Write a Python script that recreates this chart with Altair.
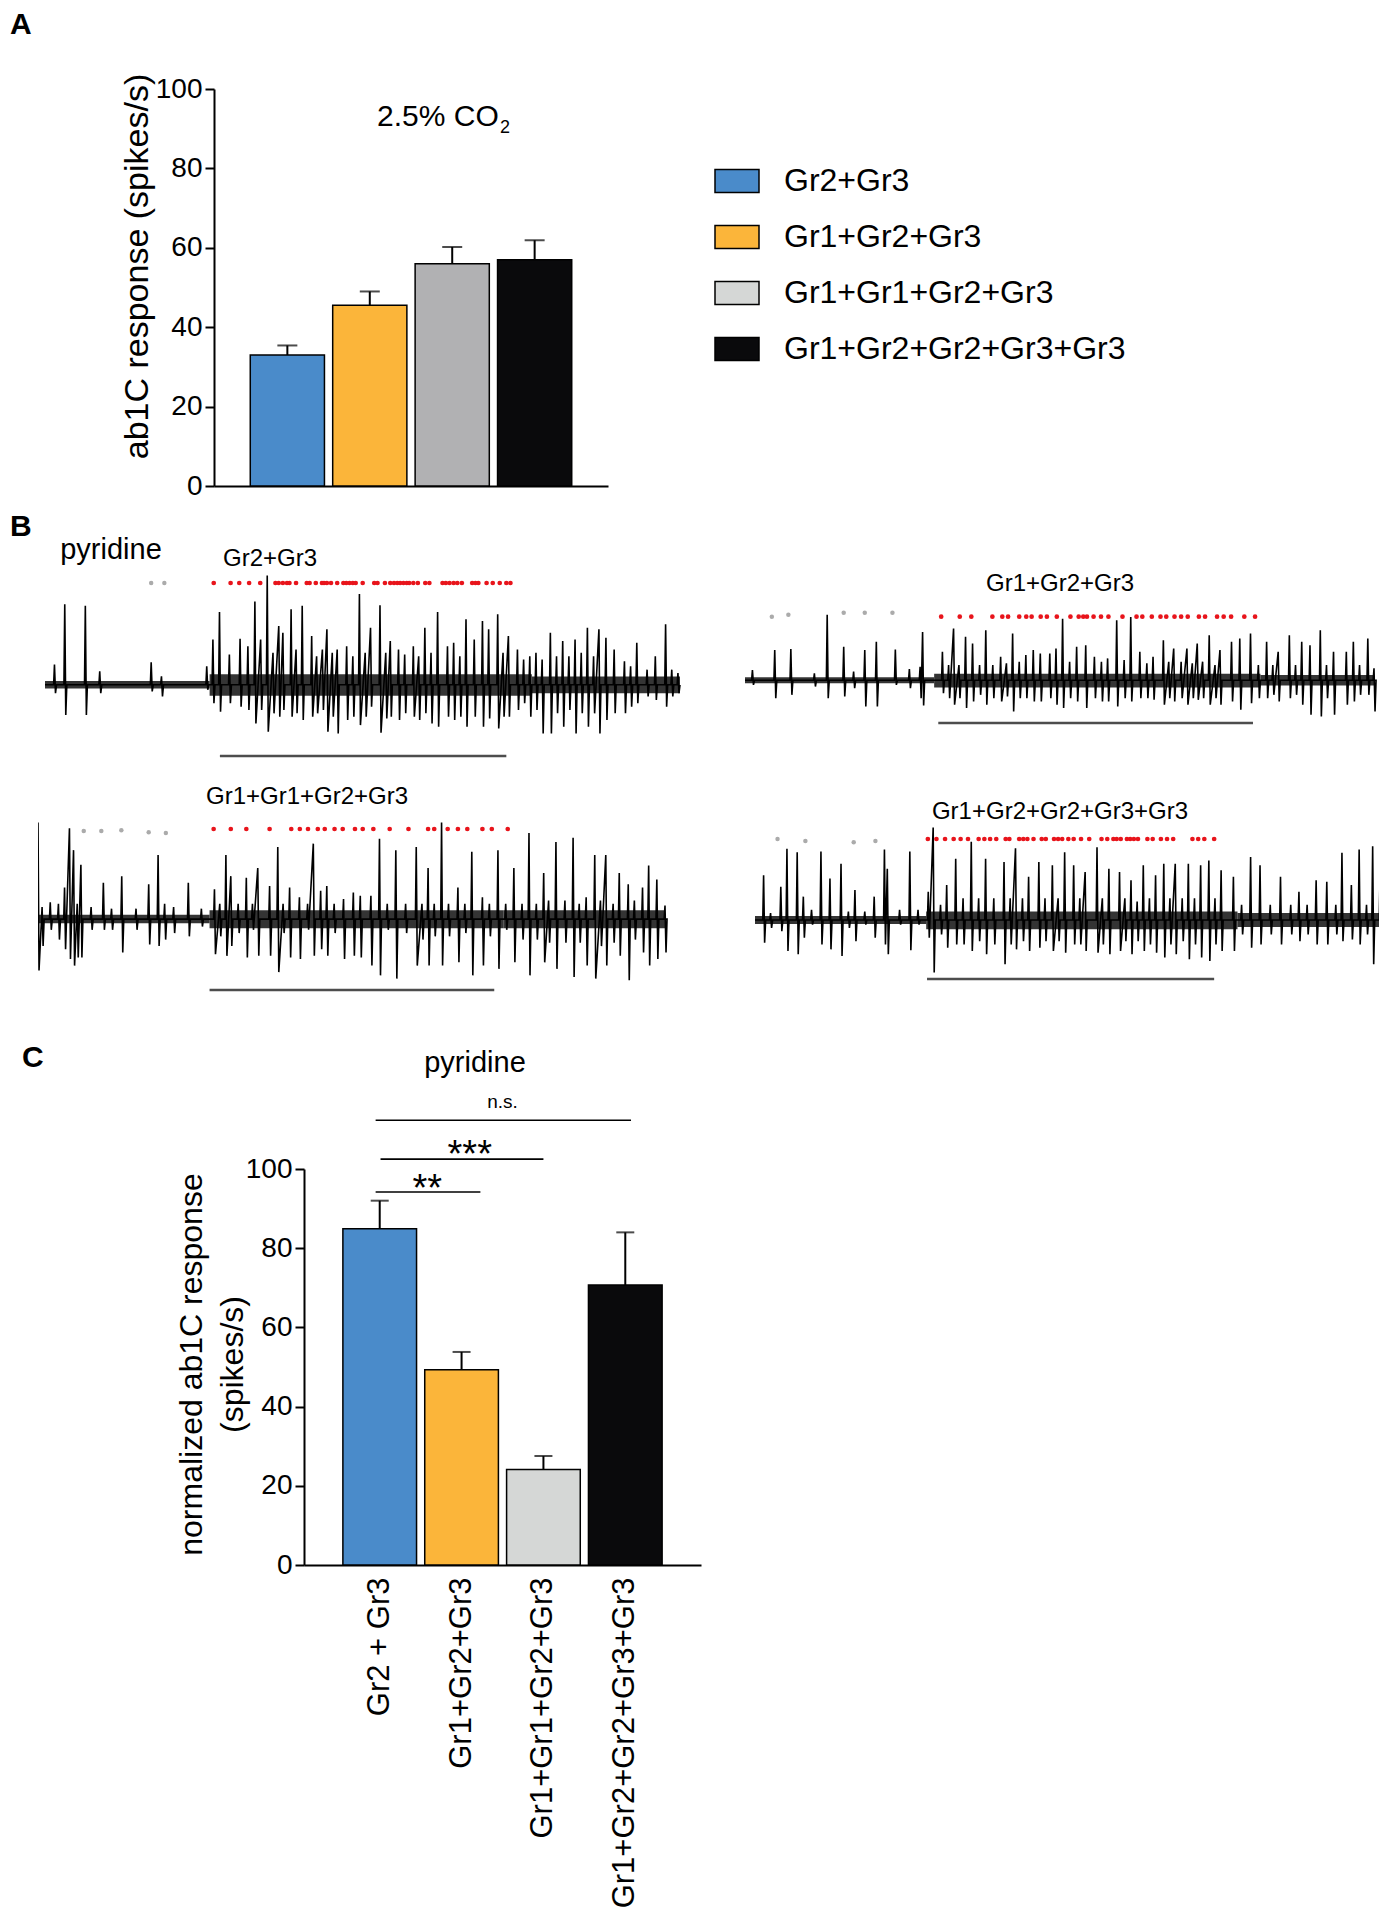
import altair as alt
import pandas as pd

FONT = "Liberation Sans"

# ---------------- Panel A data ----------------
CATS_A = ["Gr2+Gr3", "Gr1+Gr2+Gr3", "Gr1+Gr1+Gr2+Gr3", "Gr1+Gr2+Gr2+Gr3+Gr3"]
MEAN_A = [33.0, 45.5, 56.0, 57.0]
SEM_A = [2.4, 3.5, 4.2, 4.9]
FILL_A = ["#4A8BCA", "#FBB53A", "#B1B1B3", "#0A0A0C"]
LEGEND_FILL = ["#4A8BCA", "#FBB53A", "#D5D7D6", "#0A0A0C"]

# ---------------- Panel C data ----------------
CATS_C = ["Gr2 + Gr3", "Gr1+Gr2+Gr3", "Gr1+Gr1+Gr2+Gr3", "Gr1+Gr2+Gr2+Gr3+Gr3"]
MEAN_C = [84.9, 49.3, 24.1, 70.7]
SEM_C = [7.1, 4.5, 3.4, 13.3]
FILL_C = ["#4A8BCA", "#FBB53A", "#D5D7D6", "#0A0A0C"]

# significance brackets (x in bar-index units, y in spikes/s)
SIG_FROM = [-0.05, 0.01, -0.05]
SIG_TO = [1.23, 2.0, 3.07]
SIG_LEVEL = [94.2, 102.5, 112.3]
SIG_LABEL = ["**", "***", "n.s."]
SIG_LABEL_X = [0.58, 1.1, 1.5]
SIG_LABEL_Y = [91.9, 100.5, 115.4]

# ---------------- Panel B traces (units) ----------------
# spikes: (time, peak, trough); vertical units grow downwards
T1_SPIKES = [(35, 285, 370), (60, 105, 435), (110, 110, 435), (145, 305, 370), (270, 278, 365),
             (295, 320, 380), (405, 290, 360), (420, 210, 400), (436, 128, 425), (460, 255, 400),
             (486, 208, 410), (505, 230, 420), (522, 97, 460), (536, 210, 420), (552, 20, 485),
             (566, 250, 430), (580, 170, 440), (590, 190, 420), (610, 120, 440), (622, 240, 430),
             (637, 110, 450), (660, 200, 440), (672, 260, 430), (686, 240, 420), (697, 180, 485),
             (710, 250, 440), (722, 240, 490), (745, 230, 450), (760, 260, 440), (776, 75, 465),
             (790, 250, 440), (803, 175, 410), (826, 108, 488), (840, 250, 445), (851, 215, 440),
             (871, 240, 450), (886, 255, 430), (907, 230, 440), (920, 260, 450), (935, 175, 430),
             (950, 250, 460), (966, 128, 470), (990, 230, 440), (1005, 220, 450), (1020, 260, 440),
             (1035, 150, 470), (1055, 210, 440), (1075, 155, 470), (1090, 180, 445), (1112, 135, 475),
             (1125, 250, 440), (1138, 200, 440), (1160, 240, 420), (1175, 270, 400), (1190, 260, 440),
             (1205, 250, 420), (1220, 270, 490), (1240, 190, 490), (1255, 260, 430), (1270, 215, 470),
             (1285, 260, 420), (1300, 210, 490), (1315, 250, 430), (1330, 175, 470), (1345, 260, 430),
             (1358, 180, 490), (1375, 205, 450), (1395, 240, 430), (1420, 275, 430), (1435, 290, 410),
             (1450, 220, 400), (1475, 300, 380), (1495, 260, 390), (1520, 165, 410), (1535, 300, 380),
             (1550, 310, 370)]
T1_BANDS = [(12, 412, 334, 356), (412, 1195, 314, 378), (1195, 1555, 320, 370)]
T1_RED = [422, 463, 484, 508, 535, 572, 580, 590, 600, 606, 622, 648, 655, 670, 685, 690, 697, 707,
          722, 737, 744, 752, 760, 767, 784, 812, 820, 838, 851, 860, 868, 875, 883, 891, 897, 907,
          918, 936, 946, 978, 986, 995, 1005, 1014, 1025, 1050, 1058, 1065, 1085, 1100, 1117, 1133, 1143]
T1_RED_Y = 42
T1_GRAY = [270, 302]
T1_GRAY_Y = [42, 42]
T1_STIM = (437, 1133, 557)

T2_SPIKES = [(30, 215, 260), (84, 155, 300), (123, 152, 290), (180, 225, 265), (211, 48, 300),
             (251, 145, 295), (275, 220, 270), (302, 155, 325), (330, 130, 325), (376, 153, 260),
             (410, 212, 270), (436, 205, 300), (442, 100, 322), (490, 160, 285), (505, 200, 300),
             (517, 90, 320), (530, 200, 300), (546, 115, 330), (563, 135, 310), (580, 200, 290),
             (595, 95, 320), (612, 200, 300), (631, 175, 310), (645, 195, 295), (660, 105, 340),
             (676, 190, 300), (692, 170, 300), (710, 155, 310), (727, 165, 310), (750, 165, 300),
             (765, 150, 320), (781, 60, 330), (798, 190, 300), (815, 145, 310), (837, 140, 330),
             (858, 175, 300), (875, 190, 310), (890, 180, 310), (912, 65, 325), (930, 185, 300),
             (946, 55, 310), (968, 160, 300), (985, 195, 300), (1000, 175, 305), (1025, 125, 320),
             (1038, 190, 300), (1050, 150, 310), (1068, 190, 300), (1082, 150, 320), (1095, 195, 300),
             (1107, 135, 305), (1120, 190, 300), (1136, 110, 320), (1150, 200, 300), (1162, 155, 320),
             (1190, 130, 310), (1210, 120, 335), (1236, 105, 315), (1255, 200, 300), (1275, 130, 300),
             (1290, 200, 290), (1303, 160, 310), (1330, 110, 300), (1345, 200, 290), (1360, 130, 320),
             (1380, 140, 350), (1405, 95, 355), (1420, 200, 300), (1437, 160, 350), (1468, 160, 320),
             (1485, 130, 310), (1500, 200, 290), (1520, 120, 290), (1535, 210, 340)]
T2_BANDS = [(12, 470, 237, 255), (470, 1260, 226, 268), (1260, 1535, 230, 262)]
T2_RED = [487, 532, 560, 611, 635, 649, 676, 693, 706, 728, 743, 767, 800, 820, 831, 840, 856, 874,
          892, 926, 960, 974, 997, 1018, 1032, 1052, 1068, 1084, 1111, 1126, 1155, 1171, 1189, 1221, 1247]
T2_RED_Y = 54
T2_GRAY = [77, 117, 251, 302, 369]
T2_GRAY_Y = [54, 48, 42, 42, 42]
T2_STIM = (480, 1242, 375)

T3_SPIKES = [(20, 0, 455), (30, 260, 380), (50, 245, 330), (70, 250, 360), (85, 200, 390),
             (97, 18, 420), (107, 85, 440), (116, 250, 415), (125, 130, 415), (150, 260, 330),
             (180, 185, 330), (200, 265, 330), (225, 165, 400), (260, 265, 330), (291, 190, 375),
             (314, 100, 380), (330, 250, 360), (352, 260, 340), (388, 185, 350), (420, 265, 320),
             (452, 205, 405), (465, 250, 350), (480, 100, 410), (492, 165, 380), (510, 250, 340),
             (530, 170, 415), (545, 250, 330), (558, 140, 410), (587, 195, 410), (607, 75, 460),
             (620, 250, 340), (636, 200, 415), (660, 230, 420), (680, 250, 330), (694, 65, 410),
             (712, 210, 390), (727, 195, 410), (745, 250, 340), (768, 235, 420), (792, 215, 410),
             (809, 225, 415), (835, 225, 440), (856, 50, 470), (875, 250, 330), (896, 85, 480),
             (920, 250, 340), (946, 75, 440), (960, 250, 360), (975, 140, 440), (990, 250, 350),
             (1008, 0, 440), (1025, 250, 350), (1048, 200, 430), (1065, 250, 340), (1082, 90, 470),
             (1108, 230, 440), (1125, 250, 350), (1146, 85, 450), (1165, 250, 330), (1185, 140, 430),
             (1205, 250, 360), (1222, 32, 470), (1240, 250, 360), (1258, 155, 430), (1270, 240, 370),
             (1288, 60, 450), (1310, 240, 370), (1330, 47, 475), (1345, 250, 370), (1362, 230, 440),
             (1383, 100, 480), (1397, 240, 380), (1410, 100, 440), (1428, 250, 370), (1443, 155, 410),
             (1465, 190, 485), (1480, 240, 360), (1500, 200, 400), (1515, 132, 440), (1535, 175, 420),
             (1555, 255, 400)]
T3_BANDS = [(20, 440, 284, 310), (440, 1160, 270, 325), (1160, 1555, 270, 325)]
T3_RED = [450, 492, 530, 587, 640, 661, 681, 705, 722, 746, 766, 796, 815, 841, 881, 927, 975, 990,
          1023, 1048, 1071, 1108, 1131, 1170]
T3_RED_Y = 20
T3_GRAY = [132, 175, 224, 291, 333]
T3_GRAY_Y = [26, 26, 24, 30, 32]
T3_STIM = (440, 1137, 515)

T4_SPIKES = [(43, 150, 355), (60, 265, 310), (85, 185, 320), (100, 70, 380), (125, 80, 390),
             (140, 215, 340), (160, 255, 300), (183, 78, 360), (205, 160, 375), (232, 115, 395),
             (250, 260, 310), (266, 195, 350), (290, 260, 300), (313, 215, 340), (338, 72, 360),
             (345, 130, 390), (375, 255, 300), (400, 78, 378), (420, 255, 300), (445, 200, 340),
             (457, 5, 445), (475, 240, 330), (490, 180, 370), (512, 100, 360), (530, 220, 360),
             (550, 48, 380), (568, 220, 350), (585, 100, 390), (605, 220, 360), (630, 110, 420),
             (645, 220, 360), (658, 68, 375), (675, 220, 350), (690, 155, 380), (715, 110, 370),
             (730, 220, 350), (748, 120, 380), (762, 220, 350), (778, 80, 385), (800, 120, 360),
             (815, 220, 360), (828, 140, 380), (857, 65, 385), (870, 220, 360), (886, 130, 390),
             (912, 140, 380), (925, 220, 350), (940, 165, 390), (955, 230, 350), (970, 120, 380),
             (985, 220, 360), (1000, 150, 385), (1020, 115, 400), (1035, 220, 360), (1048, 115, 390),
             (1065, 220, 350), (1080, 115, 405), (1095, 220, 360), (1110, 120, 400), (1130, 105, 410),
             (1145, 220, 360), (1160, 135, 380), (1190, 155, 380), (1210, 240, 330), (1232, 95, 370),
             (1255, 120, 360), (1280, 240, 330), (1305, 155, 360), (1330, 240, 330), (1350, 200, 350),
             (1370, 240, 330), (1392, 165, 360), (1418, 170, 360), (1440, 240, 330), (1455, 82, 350),
             (1478, 180, 345), (1497, 72, 360), (1515, 240, 330), (1530, 62, 420), (1548, 155, 340),
             (1562, 185, 335)]
T4_BANDS = [(22, 440, 274, 298), (440, 1200, 260, 314), (1200, 1565, 265, 307)]
T4_RED = [444, 465, 486, 507, 524, 542, 568, 582, 596, 611, 634, 643, 667, 677, 687, 702, 722, 732,
          752, 762, 772, 787, 800, 818, 838, 868, 882, 897, 905, 915, 930, 938, 947, 957, 980, 993,
          1013, 1028, 1043, 1090, 1104, 1119, 1143]
T4_RED_Y = 40
T4_GRAY = [77, 145, 263, 316]
T4_GRAY_Y = [40, 46, 50, 46]
T4_STIM = (442, 1143, 465)

# ---------------- layout constants (page pixels) ----------------
RX = 38                      # left edge shared by all rows
PAD_IN = 0.1


def text_layer(txt, x, y, size, weight="normal", align="center", baseline="alphabetic"):
    return alt.Chart(pd.DataFrame({"t": [txt]})).mark_text(
        font=FONT, fontSize=size, fontWeight=weight, align=align, baseline=baseline, color="black"
    ).encode(text="t:N", x=alt.value(x), y=alt.value(y))


def y_axis(title, size, tx, ty, offset, lh=None):
    kw = dict(values=[0, 20, 40, 60, 80, 100], title=title, titleFont=FONT, titleFontSize=size,
              titleFontWeight="normal", titleX=tx, titleY=ty, titleAngle=270, titleAlign="center",
              titleBaseline="middle", titleColor="black", labelFont=FONT, labelFontSize=28,
              labelColor="black", labelPadding=3, tickSize=9, tickWidth=2, tickColor="black",
              domainWidth=2, domainColor="black", grid=False, offset=offset)
    if lh:
        kw["titleLineHeight"] = lh
    return alt.Axis(**kw)


def bar_layers(cats, means, sems, fills, po, cap, xrange, xaxis, yaxis):
    df = pd.DataFrame({"cat": cats, "mean": means,
                       "top": [m + s for m, s in zip(means, sems)],
                       "fill": fills, "zero": [0] * len(cats)})
    xs = alt.Scale(domain=cats, range=xrange, paddingInner=PAD_IN, paddingOuter=po)
    ys = alt.Scale(domain=[0, 100], nice=False)
    bars = alt.Chart(df).mark_bar(stroke="black", strokeWidth=1.5).encode(
        x=alt.X("cat:N", sort=cats, scale=xs, axis=xaxis),
        y=alt.Y("mean:Q", scale=ys, axis=yaxis, stack=None),
        fill=alt.Fill("fill:N", scale=None, legend=None))
    err = alt.Chart(df).mark_rule(color="black", strokeWidth=2).encode(
        x=alt.X("cat:N", sort=cats, scale=xs, axis=xaxis),
        y=alt.Y("mean:Q", scale=ys, axis=yaxis, stack=None),
        y2="top:Q")
    capm = alt.Chart(df).mark_tick(color="black", thickness=2, size=cap).encode(
        x=alt.X("cat:N", sort=cats, scale=xs, axis=xaxis),
        y=alt.Y("top:Q", scale=ys, axis=yaxis, stack=None))
    return df, xs, ys, bars, err, capm


def cal(c, q):
    d0, p0, d1, p1 = c
    return d0 + (q - p0) * (d1 - d0) / (p1 - p0)


def trace_vertices(spikes, bands):
    """Polyline through the read spikes: peak then trough, back to the baseline between
    spikes that are not packed together."""
    base = (bands[0][2] + bands[0][3]) / 2
    start, end = bands[0][0], bands[-1][1]
    pts = [(start, base)]
    prev = None
    for t, up, dn in sorted(spikes):
        if prev is None or t - prev > 14:
            if prev is not None:
                pts.append((prev + 5, base))
            pts.append((max(start, t - 2), base))
        pts.append((t, up))
        pts.append((t + 2.5, dn))
        prev = t
    pts.append((prev + 5, base))
    pts.append((end, base))
    return pd.DataFrame({"i": range(len(pts)), "t": [p[0] for p in pts], "v": [p[1] for p in pts]})


def trace_layer(spikes, bands, red_t, red_y, gray_t, gray_y, stim, calx, caly, box, row_top, texts):
    bx0, by0, bx1, by1 = box
    xs = alt.Scale(domain=[cal(calx, bx0), cal(calx, bx1)], range=[bx0 - RX, bx1 - RX],
                   nice=False, zero=False)
    ys = alt.Scale(domain=[cal(caly, by0), cal(caly, by1)], range=[by0 - row_top, by1 - row_top],
                   nice=False, zero=False)

    d_ln = trace_vertices(spikes, bands)
    d_bd = pd.DataFrame(bands, columns=["t0", "t1", "lo", "hi"])
    d_red = pd.DataFrame({"t": red_t, "y": [red_y] * len(red_t)})
    d_gray = pd.DataFrame({"t": gray_t, "y": gray_y})
    d_stim = pd.DataFrame([stim], columns=["t0", "t1", "y"])

    band = alt.Chart(d_bd).mark_rect(color="#111111", opacity=0.85, clip=True).encode(
        x=alt.X("t0:Q", scale=xs, axis=None), x2="t1:Q",
        y=alt.Y("lo:Q", scale=ys, axis=None), y2="hi:Q")
    line = alt.Chart(d_ln).mark_line(color="black", strokeWidth=1.6, clip=True).encode(
        x=alt.X("t:Q", scale=xs, axis=None),
        y=alt.Y("v:Q", scale=ys, axis=None), order="i:Q")
    gray = alt.Chart(d_gray).mark_circle(color="#ABABAB", size=20, opacity=1).encode(
        x=alt.X("t:Q", scale=xs, axis=None), y=alt.Y("y:Q", scale=ys, axis=None))
    red = alt.Chart(d_red).mark_circle(color="#E8141B", size=22, opacity=1).encode(
        x=alt.X("t:Q", scale=xs, axis=None), y=alt.Y("y:Q", scale=ys, axis=None))
    st = alt.Chart(d_stim).mark_rule(color="#4D4D4D", strokeWidth=2.5).encode(
        x=alt.X("t0:Q", scale=xs, axis=None), x2="t1:Q",
        y=alt.Y("y:Q", scale=ys, axis=None))
    layers = [band, line, gray, red, st]
    for (txt, px, py, size, weight, align, baseline) in texts:
        layers.append(text_layer(txt, px - RX, py - row_top, size, weight, align, baseline))
    return alt.layer(*layers)


# ---------------- Panel A (row from page y 89 to 486) ----------------
A_X0, A_Y0, A_X1, A_Y1 = 214, 89, 608, 486
xaxisA = alt.Axis(labels=False, ticks=False, title=None, domainWidth=2, domainColor="black", grid=False)
yaxisA = y_axis("ab1C response (spikes/s)", 34, 137 - A_X0, 266 - A_Y0, -(A_X0 - RX))
dfA, xsA, ysA, barsA, errA, capA = bar_layers(CATS_A, MEAN_A, SEM_A, FILL_A, 0.44, 20,
                                              [A_X0 - RX, A_X1 - RX], xaxisA, yaxisA)

legend_src = alt.Chart(dfA).mark_bar(stroke="black", strokeWidth=1.5).encode(
    x=alt.X("cat:N", sort=CATS_A, scale=xsA, axis=xaxisA),
    y=alt.Y("zero:Q", scale=ysA, axis=yaxisA, stack=None),
    color=alt.Color("cat:N", sort=CATS_A,
                    scale=alt.Scale(domain=CATS_A, range=LEGEND_FILL),
                    legend=alt.Legend(title=None, orient="none", legendX=714 - RX, legendY=158 - A_Y0,
                                      symbolType="M-1,-0.52H1V0.52H-1Z", symbolSize=1936,
                                      symbolStrokeColor="black", symbolStrokeWidth=1.5,
                                      symbolOpacity=1, labelFont=FONT, labelFontSize=32,
                                      labelColor="black", labelOffset=24, rowPadding=17,
                                      padding=0, labelLimit=600)))

rowA = alt.layer(
    legend_src, barsA, errA, capA,
    text_layer("2.5% CO", 377 - RX, 126 - A_Y0, 30, align="left"),
    text_layer("2", 500 - RX, 133 - A_Y0, 18, align="left"),
    text_layer("A", 10 - RX, 10 - A_Y0, 30, weight="bold", align="left", baseline="top"),
).properties(width=A_X1 - RX, height=A_Y1 - A_Y0)

# ---------------- Panel B ----------------
B1_TOP, B1_BOT, B2_TOP, B2_BOT, B_RIGHT = 486, 775, 775, 1169, 1379
trace1 = trace_layer(T1_SPIKES, T1_BANDS, T1_RED, T1_RED_Y, T1_GRAY, T1_GRAY_Y, T1_STIM,
                     (12, 45, 1555, 680), (42, 583, 557, 756), (38, B1_TOP, 700, B1_BOT), B1_TOP,
                     [("pyridine", 111, 559, 29, "normal", "center", "alphabetic"),
                      ("Gr2+Gr3", 270, 566, 24, "normal", "center", "alphabetic"),
                      ("B", 10, 512, 30, "bold", "left", "top")])
trace2 = trace_layer(T2_SPIKES, T2_BANDS, T2_RED, T2_RED_Y, T2_GRAY, T2_GRAY_Y, T2_STIM,
                     (12, 745, 1535, 1374), (52, 616, 375, 723), (700, B1_TOP, B_RIGHT, B1_BOT), B1_TOP,
                     [("Gr1+Gr2+Gr3", 1060, 591, 24, "normal", "center", "alphabetic")])
trace3 = trace_layer(T3_SPIKES, T3_BANDS, T3_RED, T3_RED_Y, T3_GRAY, T3_GRAY_Y, T3_STIM,
                     (20, 38, 1555, 665), (20, 829, 515, 990), (38, B2_TOP, 700, B2_BOT), B2_TOP,
                     [("Gr1+Gr1+Gr2+Gr3", 307, 804, 24, "normal", "center", "alphabetic")])
trace4 = trace_layer(T4_SPIKES, T4_BANDS, T4_RED, T4_RED_Y, T4_GRAY, T4_GRAY_Y, T4_STIM,
                     (22, 755, 1565, 1387), (40, 839, 465, 979), (700, B2_TOP, B_RIGHT, B2_BOT), B2_TOP,
                     [("Gr1+Gr2+Gr2+Gr3+Gr3", 1060, 819, 24, "normal", "center", "alphabetic")])

rowB1 = alt.layer(trace1, trace2).resolve_scale(x="independent", y="independent").properties(
    width=B_RIGHT - RX, height=B1_BOT - B1_TOP)
rowB2 = alt.layer(trace3, trace4).resolve_scale(x="independent", y="independent").properties(
    width=B_RIGHT - RX, height=B2_BOT - B2_TOP)

# ---------------- Panel C (row from page y 1169 to 1565) ----------------
C_X0, C_Y0, C_X1, C_Y1 = 304, 1169, 701, 1565
PO_C = 0.475
xaxisC = alt.Axis(title=None, ticks=False, labelAngle=270, labelAlign="right", labelBaseline="middle",
                  labelFont=FONT, labelFontSize=31, labelColor="black", labelPadding=12,
                  labelLimit=600, domainWidth=2, domainColor="black", grid=False)
yaxisC = y_axis(["normalized ab1C response", "(spikes/s)"], 32, 191.5 - C_X0, 1364 - C_Y0,
                -(C_X0 - RX), lh=41)
dfC, xsC, ysC, barsC, errC, capC = bar_layers(CATS_C, MEAN_C, SEM_C, FILL_C, PO_C, 18,
                                              [C_X0 - RX, C_X1 - RX], xaxisC, yaxisC)

# linear scale aligned with the band centres (index units)
n = len(CATS_C)
lead = PO_C + (1 - PAD_IN) / 2
span = n - PAD_IN + 2 * PO_C
xq = alt.Scale(domain=[-lead, span - lead], range=[C_X0 - RX, C_X1 - RX], nice=False, zero=False)
sig_df = pd.DataFrame({"x0": SIG_FROM, "x1": SIG_TO, "y": SIG_LEVEL, "lab": SIG_LABEL,
                       "lx": SIG_LABEL_X, "ly": SIG_LABEL_Y})
sig_rules = alt.Chart(sig_df).mark_rule(color="black", strokeWidth=1.6).encode(
    x=alt.X("x0:Q", scale=xq, axis=None), x2="x1:Q",
    y=alt.Y("y:Q", scale=ysC, axis=yaxisC))
sig_stars = alt.Chart(sig_df).transform_filter(alt.datum.lab != "n.s.").mark_text(
    font=FONT, fontSize=38, color="black", baseline="alphabetic").encode(
    x=alt.X("lx:Q", scale=xq, axis=None), y=alt.Y("ly:Q", scale=ysC, axis=yaxisC), text="lab:N")
sig_ns = alt.Chart(sig_df).transform_filter(alt.datum.lab == "n.s.").mark_text(
    font=FONT, fontSize=19, color="black", baseline="alphabetic").encode(
    x=alt.X("lx:Q", scale=xq, axis=None), y=alt.Y("ly:Q", scale=ysC, axis=yaxisC), text="lab:N")

barsC_group = alt.layer(barsC, errC, capC)
rowC = alt.layer(
    barsC_group, sig_rules, sig_stars, sig_ns,
    text_layer("pyridine", 475 - RX, 1072 - C_Y0, 29),
    text_layer("C", 22 - RX, 1043 - C_Y0, 30, weight="bold", align="left", baseline="top"),
).resolve_scale(x="independent").properties(width=C_X1 - RX, height=C_Y1 - C_Y0)

# ---------------- layout ----------------
chart = alt.vconcat(rowA, rowB1, rowB2, rowC, spacing=0, bounds="flush").properties(
    padding={"left": 2, "top": 2, "right": 0, "bottom": 0}
).configure(font=FONT).configure_view(strokeWidth=0, stroke="transparent")

chart.save("out.html", embed_options={"renderer": "svg", "actions": False})
